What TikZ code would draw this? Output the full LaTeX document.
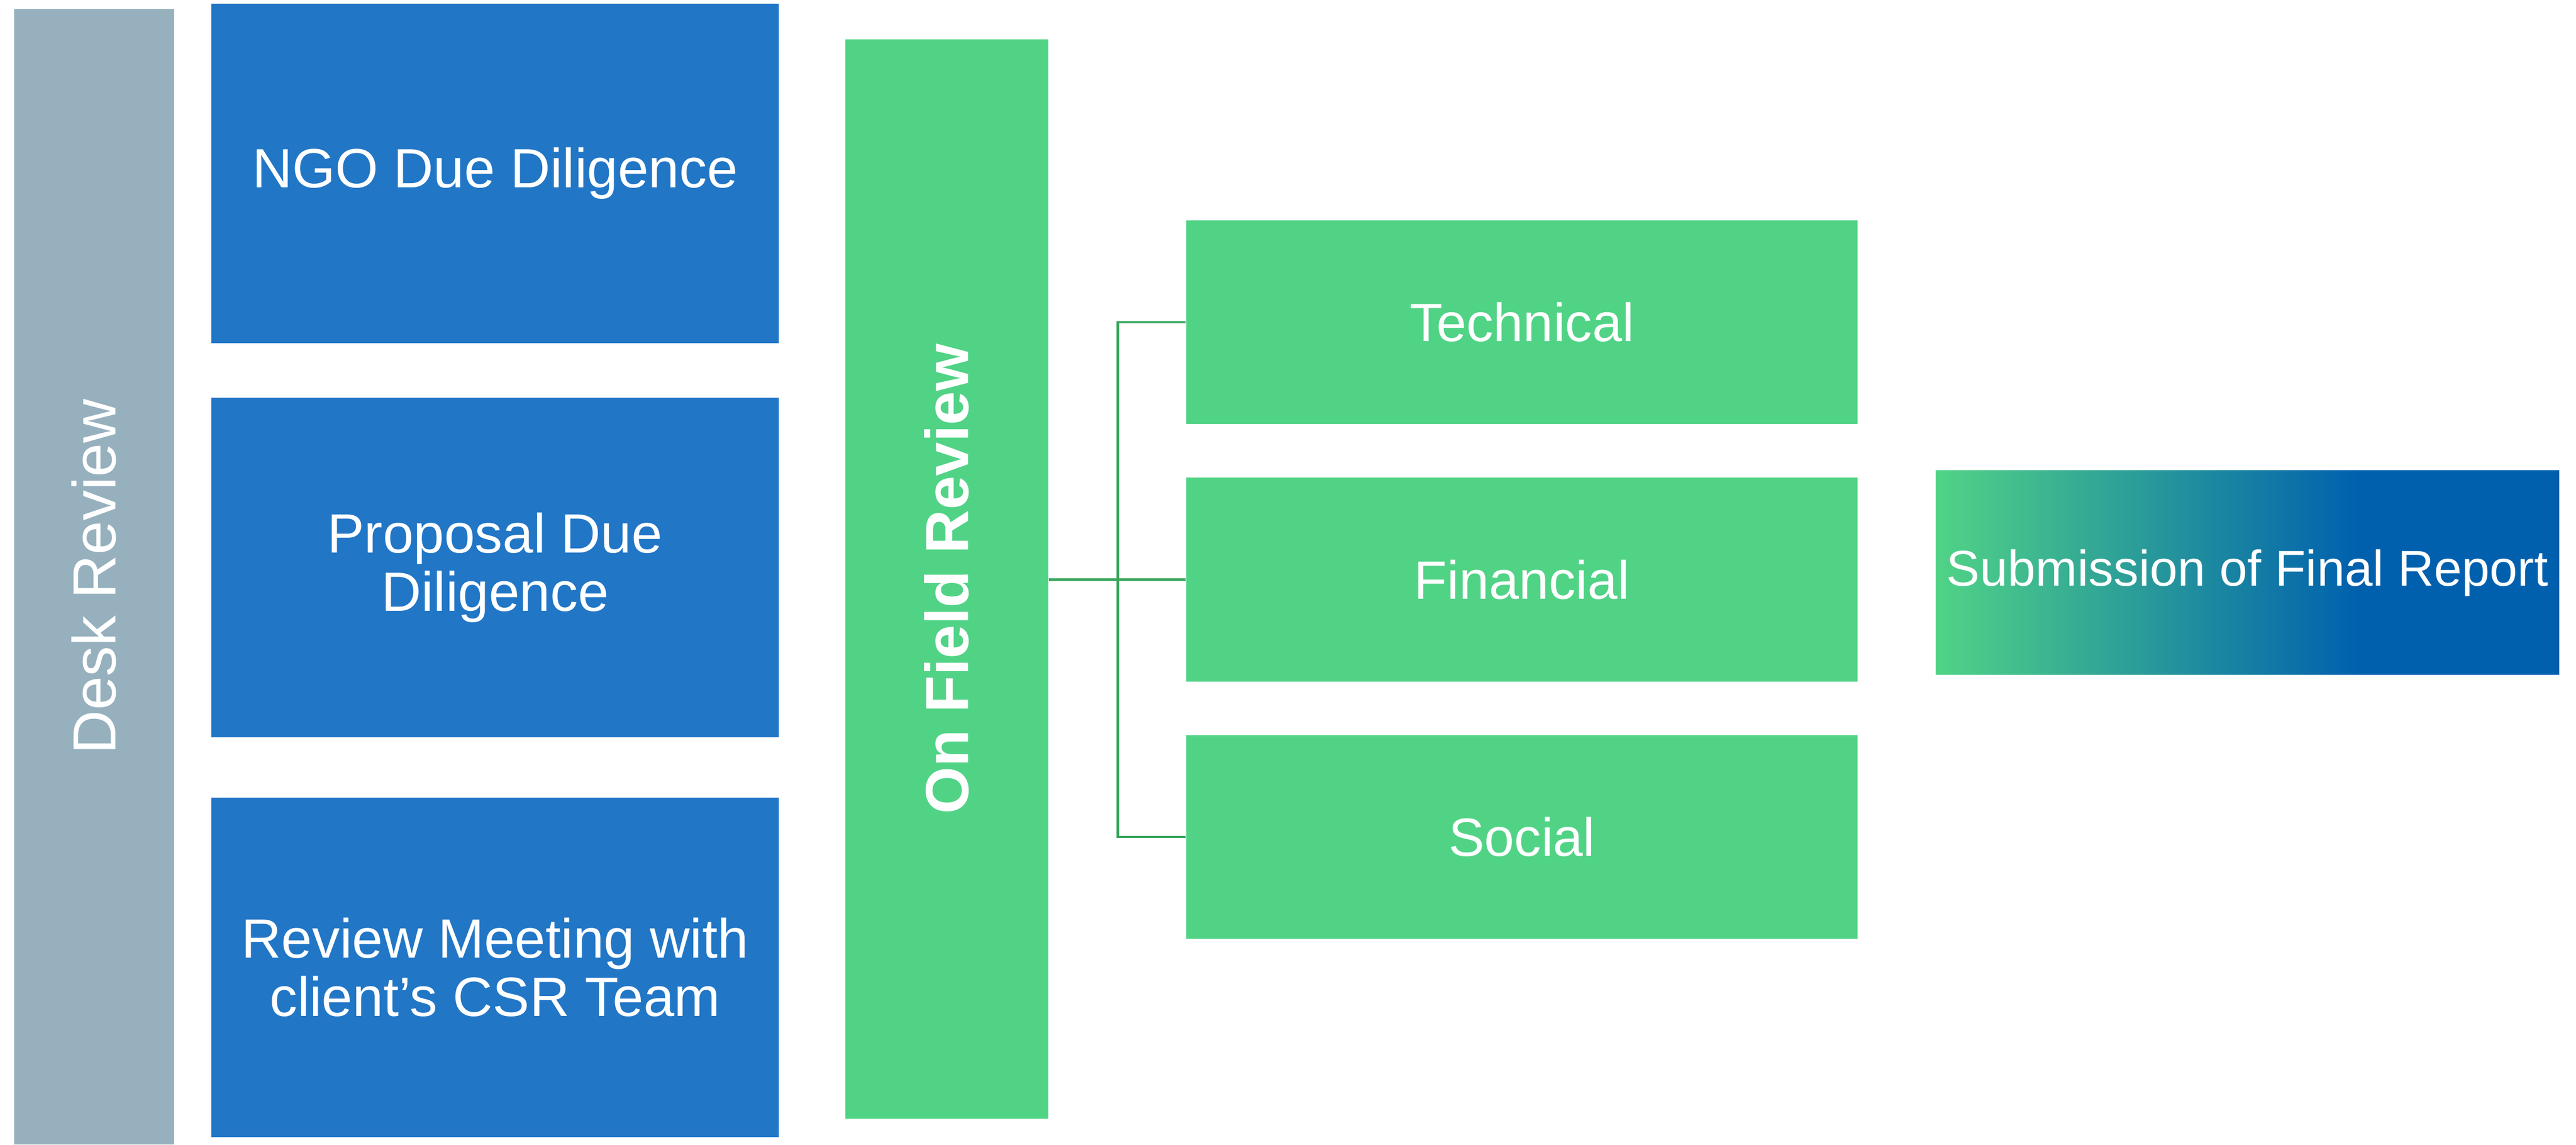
\documentclass[tikz,border=0pt]{standalone}
\usepackage{fontspec}
\setmainfont{Liberation Sans}
\definecolor{deskgray}{HTML}{96B0BE}
\definecolor{deskblue}{HTML}{2176C6}
\definecolor{fieldgreen}{HTML}{51D386}
\definecolor{linkgreen}{HTML}{3CA760}
\definecolor{reportblue}{HTML}{0060AE}
\pgfdeclarehorizontalshading{reportshade}{100bp}{color(0bp)=(fieldgreen); color(25bp)=(fieldgreen); color(59bp)=(reportblue); color(100bp)=(reportblue)}
\tikzset{
  bar/.style={rectangle, rotate=90, text=white, inner sep=0pt, font=\fontsize{33}{35}\selectfont},
  deskbox/.style={rectangle, fill=deskblue, text=white, align=center, inner sep=0pt,
    minimum width=10.82cm, minimum height=6.47cm, font=\fontsize{30}{31.6}\selectfont},
  fieldbox/.style={rectangle, fill=fieldgreen, text=white, inner sep=0pt,
    minimum width=12.8cm, minimum height=3.88cm, font=\fontsize{29.2}{31}\selectfont},
  link/.style={draw=linkgreen, line width=1.4pt}
}
\begin{document}
\begin{tikzpicture}
  \useasboundingbox (0,0) rectangle (49.12,21.81);
  % desk review
  \node[bar, fill=deskgray, minimum width=21.64cm, minimum height=3.05cm] (desk) at (1.795,10.82) {Desk Review};
  \node[deskbox] (ngo) at (9.44,18.505) {NGO Due Diligence};
  \node[deskbox] (prop) at (9.44,10.995) {Proposal Due\\Diligence};
  \node[deskbox] (meet) at (9.44,3.38) {Review Meeting with\\client’s CSR Team};
  % on field review (rotated, so its right side is field.south)
  \node[bar, fill=fieldgreen, minimum width=20.57cm, minimum height=3.87cm, font=\fontsize{33}{35}\selectfont\bfseries] (field) at (18.055,10.775) {On Field Review};
  \node[fieldbox] (tech) at (29.02,15.67) {Technical};
  \node[fieldbox] (fin) at (29.02,10.765) {Financial};
  \node[fieldbox] (soc) at (29.02,5.86) {Social};
  \draw[link] (field.south |- fin.west) -- (fin.west);
  \draw[link] (tech.west) -- ++(-1.3,0) |- (soc.west);
  % final report
  \node[rectangle, shading=reportshade, text=white, inner sep=0pt, minimum width=11.89cm, minimum height=3.89cm,
    font=\fontsize{27.2}{29}\selectfont] (report) at (42.855,10.895) {Submission of Final Report};
\end{tikzpicture}
\end{document}
